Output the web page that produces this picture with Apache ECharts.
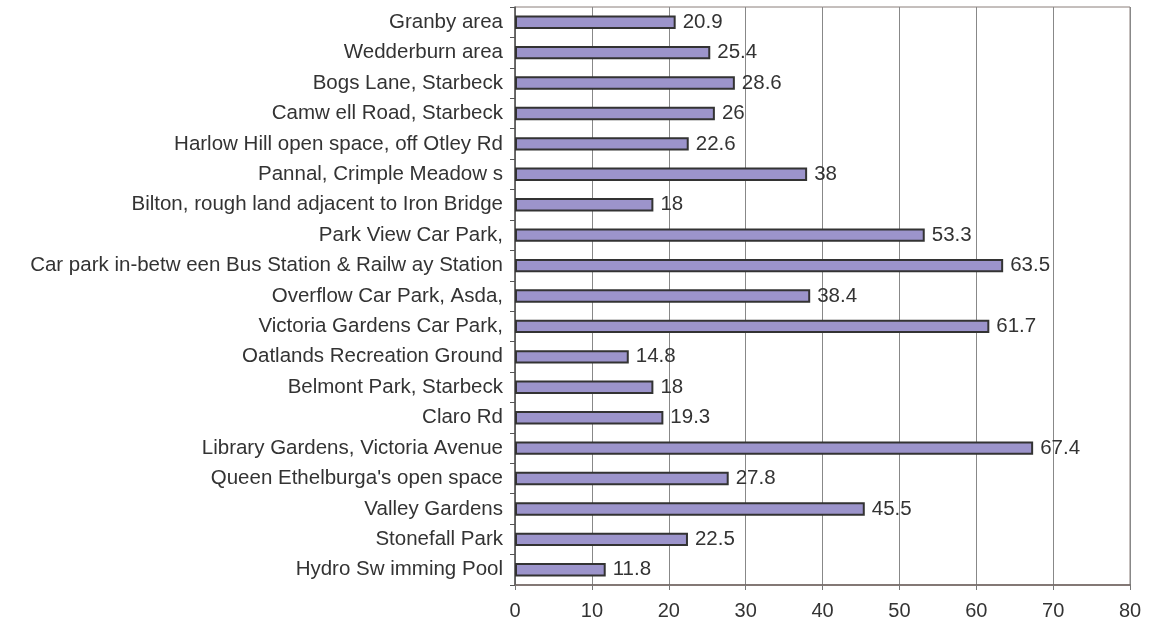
<!DOCTYPE html>
<html><head><meta charset="utf-8">
<script src="https://cdn.jsdelivr.net/npm/echarts@6/dist/echarts.min.js"></script>
<style>html,body{margin:0;padding:0;background:#fff}#c{width:1153px;height:628px}</style>
</head><body><div id="c"></div>
<script>
// bottom to top
const categories = [
  "Hydro Sw imming Pool",
  "Stonefall Park",
  "Valley Gardens",
  "Queen Ethelburga's open space",
  "Library Gardens, Victoria Avenue",
  "Claro Rd",
  "Belmont Park, Starbeck",
  "Oatlands Recreation Ground",
  "Victoria Gardens Car Park,",
  "Overflow Car Park, Asda,",
  "Car park in-betw een Bus Station & Railw ay Station",
  "Park View Car Park,",
  "Bilton, rough land adjacent to Iron Bridge",
  "Pannal, Crimple Meadow s",
  "Harlow Hill open space, off Otley Rd",
  "Camw ell Road, Starbeck",
  "Bogs Lane, Starbeck",
  "Wedderburn area",
  "Granby area"
];
const values = [11.8, 22.5, 45.5, 27.8, 67.4, 19.3, 18, 14.8, 61.7, 38.4, 63.5, 53.3, 18, 38, 22.6, 26, 28.6, 25.4, 20.9];
const xTicks = [0, 10, 20, 30, 40, 50, 60, 70, 80];

const chart = echarts.init(document.getElementById('c'), null, {renderer: 'canvas'});
const font = 'Liberation Sans, Arial, sans-serif';
chart.setOption({
  animation: false,
  backgroundColor: '#fff',
  grid: {left: 515, right: 23, top: 7, bottom: 43, show: true, borderColor: '#8a7f7a', borderWidth: 1, backgroundColor: 'transparent'},
  xAxis: {
    type: 'value', min: xTicks[0], max: xTicks[xTicks.length - 1], interval: 10,
    axisLine: {show: true, lineStyle: {color: '#6e625d', width: 1.5}},
    axisTick: {show: true, length: 5, lineStyle: {color: '#777'}},
    splitLine: {show: true, lineStyle: {color: '#888', width: 1}},
    axisLabel: {color: '#333', fontSize: 20, fontFamily: font, margin: 16}
  },
  yAxis: {
    type: 'category', data: categories,
    axisLine: {show: true, lineStyle: {color: '#555', width: 1.5}},
    axisTick: {show: true, length: 5, lineStyle: {color: '#555'}},
    axisLabel: {color: '#333', fontSize: 20.5, fontFamily: font, margin: 12}
  },
  series: [{
    type: 'bar', data: values, barWidth: '44%',
    itemStyle: {color: '#9c94cb', borderColor: '#333', borderWidth: 2},
    label: {show: true, position: 'right', distance: 7, color: '#333', fontSize: 20.5, fontFamily: font}
  }]
});
</script></body></html>
